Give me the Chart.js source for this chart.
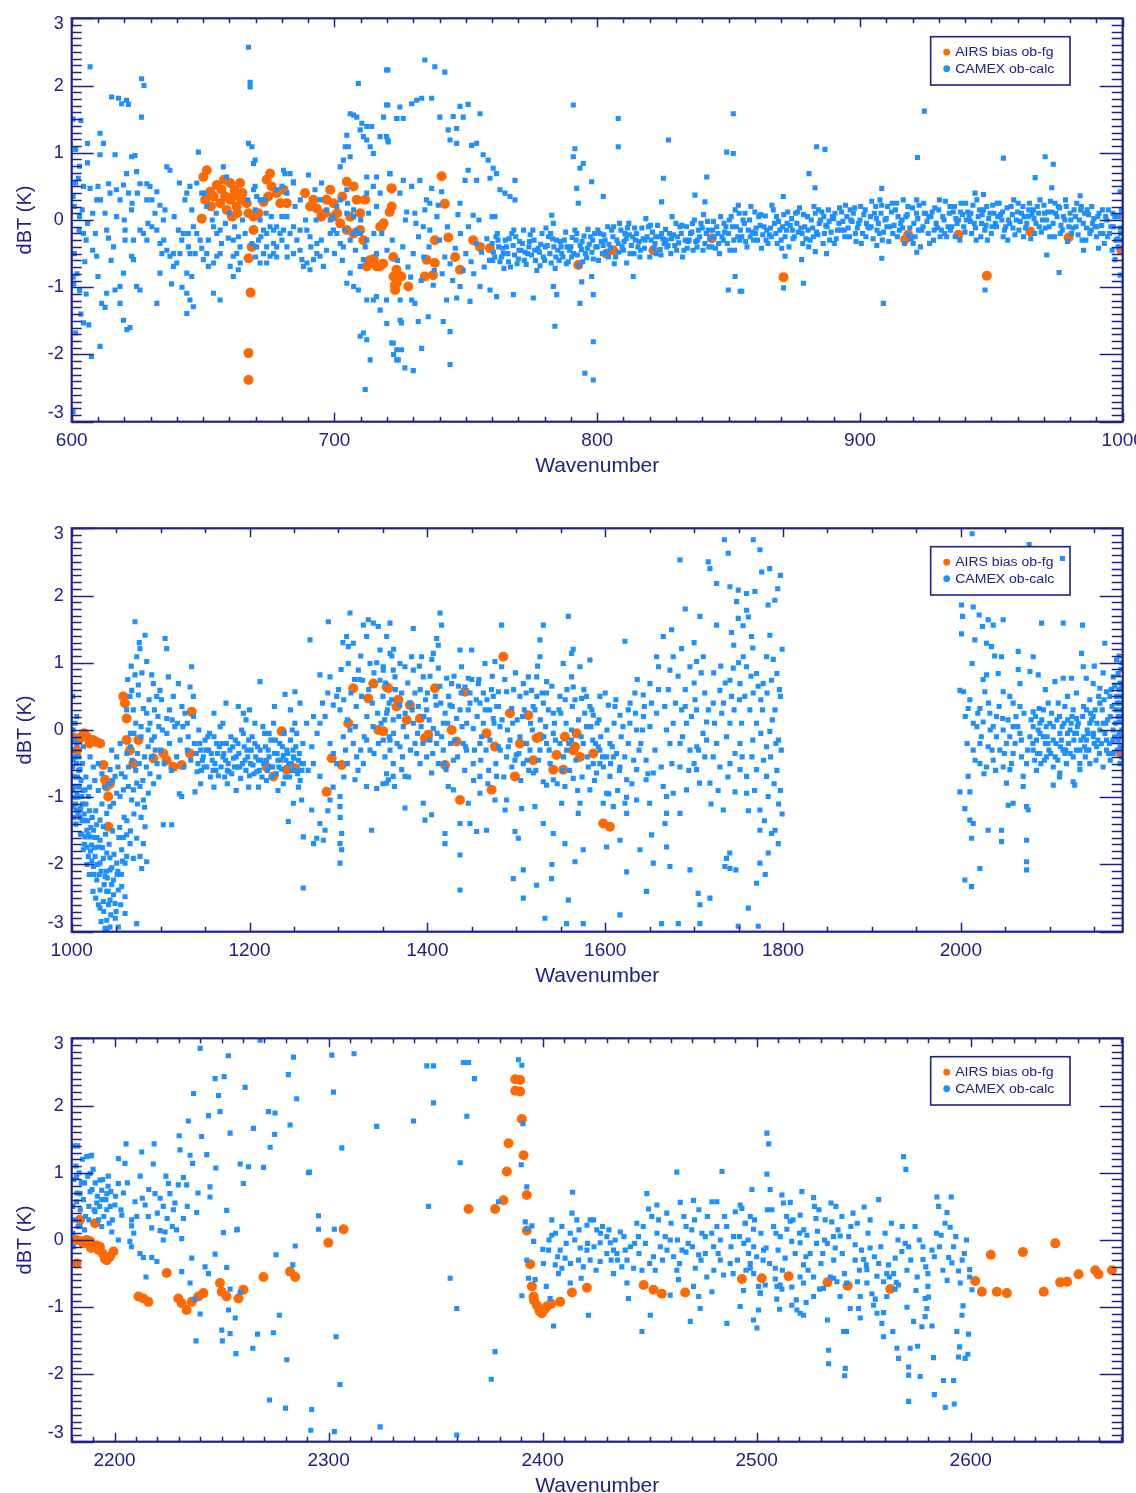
<!DOCTYPE html>
<html>
<head>
<meta charset="utf-8">
<title>dBT by wavenumber</title>
<script src="https://cdn.jsdelivr.net/npm/chart.js@4.4.0/dist/chart.umd.min.js"></script>
<style>
  html, body { margin: 0; padding: 0; background: #ffffff; width: 1136px; height: 1493px; overflow: hidden; }
  body { position: relative; }
  canvas { position: absolute; left: 0; }
</style>
</head>
<body>
<canvas id="band1" width="1136" height="510" style="top:0px;width:1136px;height:510px"></canvas>
<canvas id="band2" width="1136" height="510" style="top:510px;width:1136px;height:510px"></canvas>
<canvas id="band3" width="1136" height="510" style="top:1020px;width:1136px;height:510px"></canvas>
<script>
// ---- colours and fonts ----
const NAVY = '#20208c';
const CAMEX_BLUE = '#1e90ff';
const AIRS_ORANGE = '#ff6a00';
const FONT = '"Liberation Sans", Arial, Helvetica, sans-serif';

// ---- axes ----
const yTickValues = [-3, -2, -1, 0, 1, 2, 3];
const band1Range = [600, 1000];
const band1Ticks = [600, 700, 800, 900, 1000];
const band2Range = [1000, 2182];
const band2Ticks = [1000, 1200, 1400, 1600, 1800, 2000];
const band3Range = [2180, 2671];
const band3Ticks = [2200, 2300, 2400, 2500, 2600];

// ---- 600-1000 cm-1: AIRS bias (ob-fg) ----
const band1Airs = [
  [651.4,0.74],[650.1,0.64],[649.5,0.02],[650.8,0.3],[652.7,0.42],[654,0.35],[655.2,0.52],[656.5,0.25],[658.4,0.35],
  [660.3,0.55],[660.3,0.3],[661.5,0.35],[662.8,0.2],[664.1,0.55],[664.7,0.3],[666.6,0.25],[667.3,0.1],[669.2,-0.15],
  [669.2,0.05],[671.1,0.1],[673,0.27],[674.2,0.6],[675.5,0.69],[676.1,0.5],[678,0.4],[680.6,0.45],[681.9,0.25],
  [679.4,0.25],[674.8,0.35],[653,0.2],[657,0.45],[659,0.15],[662,0.45],[665,0.4],[663,0.1],[658,0.6],[661,0.05],
  [688.8,0.4],[690.7,0.2],[693.3,0.17],[696.4,0.1],[698.4,0.45],[699.6,0.25],[699.6,0.05],[702.2,-0.05],[692,0.3],
  [695,0.05],[697,0.3],[701,0.1],[703,0.35],[706,0.05],[704.7,0.57],[707.3,0.5],[704.7,-0.15],[707.3,-0.2],
  [709.8,-0.15],[708.5,0.3],[711.7,0.3],[709.8,0.1],[711,-0.3],[712.3,-0.69],[714.8,-0.64],[716.1,-0.69],
  [713.5,-0.6],[715,-0.58],[718.5,-0.65],[717.4,-0.1],[721.8,0.47],[721.8,0.2],[722.5,-0.84],[723.7,-0.94],
  [723.1,-1.04],[718.7,-0.05],[668.5,-0.4],[667.3,-0.57],[668.1,-1.08],[667.3,-1.98],[667.3,-2.38],
  [740.8,0.65],[721.7,0.47],[721,0.12],[717.9,-0.1],[742,0.24],[738.2,-0.3],[743.3,-0.26],[735.1,-0.59],
  [738.2,-0.64],[745.9,-0.55],[747.8,-0.74],[734.4,-0.84],[737.5,-0.82],[722.4,-0.55],[723.6,-0.74],[725.5,-0.84],
  [728.1,-0.99],[723,-0.97],[717.3,-0.69],[752.8,-0.3],[755.4,-0.4],[759.2,-0.42],[792.8,-0.67],[803.6,-0.5],
  [806.1,-0.45],[843.6,-0.27],[821.4,-0.45],[870.9,-0.85],[917.2,-0.29],[918.4,-0.22],[937.5,-0.22],[948.3,-0.83],
  [964.8,-0.17],[979.4,-0.26],[999.5,-0.45]
];

// ---- 600-1000 cm-1: CAMEX (ob-calc) ----
const band1Camex = [
  [600.5,1.5],[603.5,1.48],[601.5,1.05],[606,1.14],[603,0.8],[604.5,0.5],[607,0.47],[601.5,0.55],[601,0.2],[603,0.05],
  [604.5,-0.2],[601,-0.5],[602,-0.8],[600.5,-0.85],[603,-1.05],[605.5,-1.1],[603.5,-1.4],[604.5,-1.53],[606.5,-1.56],
  [601.5,-1.68],[607.5,-2.03],[607,2.28],[600.5,-2.85],[605.5,-0.3],[608,0.1],[609.5,0.3],[610.8,-1.88],[610.8,1.29],
  [600.5,0.35],[602.5,0.62],[605,-0.62],[602.8,-0.15],[600.8,-0.95],[606,0.85],[608,-0.45],
  [612.1,1.14],[610.8,0.97],[610,0.5],[611,0.3],[614,0.54],[614.6,0.4],[612.7,0.1],[613.3,-0.15],[614,-0.27],
  [615.9,-0.4],[609.5,-0.54],[610,-0.84],[613.3,-1.09],[611.4,-1.24],[612.7,-1.3],[616.5,-1.04],[618.4,-0.99],
  [615.2,1.83],[617.8,1.81],[619,1.73],[620.9,1.78],[621.6,1.72],[616.5,0.97],[620.9,0.69],[622.8,0.94],[624.1,0.96],
  [624.7,0.72],[626,0.54],[619.7,0.52],[621.6,0.4],[618.4,0.3],[617.1,0.05],[620.3,-0.15],[622.8,0.15],[626,-0.15],
  [623.5,-0.3],[620.3,-0.3],[622.8,-0.54],[623.5,-0.59],[619.7,-0.79],[618.4,-1.24],[619.7,-1.49],[621,-1.63],
  [622.2,-1.6],[624.7,-0.99],[626,-1.04],[626.6,2.1],[627.5,2.0],[626.6,1.53],[628.6,0.54],[628.6,0.3],[629.8,0.5],
  [630.5,0.3],[631.7,0.1],[632.4,0.42],[633.6,0.22],[634.9,0.0],[635.5,0.15],[636.2,0.79],[637.4,0.74],[627.3,-0.2],
  [628.6,-0.3],[630.5,-0.1],[632.4,-0.15],[633.6,-0.35],[634.3,-0.5],[636.2,-0.45],[637.4,-0.54],[638.7,-0.5],
  [638.7,-0.69],[640,-0.64],[641.2,-0.5],[641.9,-0.3],[640.6,-0.15],[642.5,-0.2],[643.1,0.3],[643.8,0.4],[645.7,0.15],
  [646.3,-0.1],[647.6,-0.2],[648.9,-0.3],[644.4,-0.4],[645,-0.5],[643.8,-0.79],[645.7,-0.84],[643.8,-1.09],
  [645,-1.19],[646.3,-1.29],[643.8,-1.39],[632.4,-1.24],[633.6,-0.79],[648.2,1.01],[647.6,0.55],[650.5,0.4],
  [617,0.45],[623,0.25],[629,-0.05],[635,-0.3],[639,0.05],[641,0.55],[645,0.5],[604,0.15],[606,-0.05],[609,-0.2],
  [615,-0.6],[620,0.0],[625,0.4],[638,-0.95],[642,-1.0],
  [649.5,0.4],[651.4,0.2],[654,-0.1],[655.2,-0.2],[656.5,-0.15],[657.7,0.79],[659,0.64],[659.6,-0.27],[661.5,-0.3],
  [661.5,-0.54],[662.8,-0.5],[664.1,-0.4],[660.3,-0.69],[661.5,-0.84],[663.4,-0.74],[664.1,-0.64],[650.1,-0.59],
  [652,-0.69],[654,-0.64],[655.2,-0.54],[656.5,-0.5],[651.4,-0.5],[647,-0.5],[649.5,-0.42],[644.4,-0.2],
  [656.5,-1.19],[654,-1.09],[667.3,2.57],[667.9,2.05],[667.9,1.98],[667.3,1.14],[668.6,1.09],[669.2,0.84],
  [669.8,0.89],[669.8,0.5],[669.2,0.45],[670.4,0.35],[671.7,0.3],[673.6,0.3],[669.8,0.15],[671.7,0.0],[673,-0.15],
  [674.2,-0.2],[675.5,-0.1],[676.8,-0.15],[678,-0.1],[679.3,-0.2],[680.6,-0.15],[681.9,0.05],[676.8,-0.35],
  [674.2,-0.4],[673,-0.5],[670.4,-0.4],[671.1,-0.3],[668.6,-0.35],[671.7,-0.64],[674.2,-0.64],[675.5,-0.54],
  [676.8,-0.5],[678,-0.4],[680,-0.3],[681.9,-0.4],[683.1,-0.2],[684.4,-0.5],[684.4,-0.1],[685.7,-0.3],[686.9,-0.45],
  [687.6,-0.59],[688.2,-0.69],[689.5,-0.64],[690.7,-0.74],[692,-0.59],[693.3,-0.5],[694.5,-0.54],[695.8,-0.69],
  [693.3,-0.35],[690.7,-0.25],[689.5,-0.15],[686.9,-0.15],[683.1,0.69],[681.2,0.69],[684.4,0.57],[681.9,0.4],
  [680,0.5],[678,0.45],[680.6,0.74],[684.4,0.55],[690.1,0.67],[692.6,0.45],[694.5,0.3],[695.1,0.55],[697.1,0.15],
  [698.4,0.0],[699.6,0.05],[700.9,0.2],[702.2,0.3],[699.6,-0.15],[698.4,-0.2],[700.9,-0.2],[702.2,-0.35],
  [703.4,-0.4],[704.1,-0.15],[706,-0.3],[707.3,-0.2],[708.5,-0.15],[709.8,-0.2],[712.3,-0.3],[702.2,0.79],
  [704.1,1.09],[705.3,1.09],[706,0.94],[703.4,0.89],[704.7,1.26],[706,1.58],[707.3,1.56],[708.5,1.53],[709.1,2.03],
  [709.8,1.34],[711,1.24],[712.3,1.19],[713.6,1.09],[714.8,0.99],[710.4,1.44],[712.3,1.39],[714.2,1.39],[720.3,2.23],
  [720.3,1.71],[717.4,1.24],[720.3,1.19],[718.7,1.53],[723.8,1.51],[721.1,0.69],[716,0.64],[714.8,0.5],[717.4,0.4],
  [712.3,0.4],[716,0.2],[707.3,0.15],[704.7,0.1],[704.7,0.45],[707.3,0.05],[712.3,0.64],[704.7,-0.94],[707.3,-0.99],
  [709.1,-1.04],[706,-0.79],[709.8,-0.69],[711,-0.59],[711.7,-0.4],[716,-0.5],[712.3,-1.19],[714.8,-1.19],
  [716,-1.14],[717.4,-1.34],[711,-1.68],[709.8,-1.73],[712.3,-1.78],[713.6,-2.08],[711.7,-2.52],[721.8,-1.83],
  [723.7,-2.08],[723.7,-1.93],[719.9,-1.54],[725,-1.49],[725,-1.19],[722.5,-2.0],
  [652,-0.3],[653.5,0.0],[655,0.1],[657,-0.35],[658.5,-0.05],[660,0.1],[662,-0.1],[663.5,-0.25],[665,0.0],[666,-0.2],
  [667,0.3],[670,-0.55],[672,-0.25],[674,0.1],[676,0.05],[678,-0.55],[680,0.05],[682,-0.55],[685,0.2],[687,0.3],
  [689,0.0],[691,-0.4],[693,0.0],[695,-0.3],[697,-0.45],[700,-0.5],[703,-0.6],[705,0.25],[708,-0.45],[710,0.0],
  [713,0.1],[715,-0.2],
  [719.8,2.23],[734.4,2.38],[738.2,2.28],[742,2.2],[719.8,1.71],[724.9,1.68],[729.4,1.73],[731.3,1.78],[733.2,1.81],
  [737,1.81],[723.6,1.51],[726.2,1.51],[740.1,1.53],[745.2,1.54],[749,1.53],[747.8,1.69],[750.9,1.72],[755.4,1.58],
  [743.3,1.34],[746.5,1.36],[744,1.19],[746.5,1.14],[752.2,1.11],[754.1,1.14],[756.6,0.97],[758.5,0.89],[760.4,0.77],
  [761.7,0.69],[750.9,0.74],[749.7,0.59],[754.1,0.59],[759.2,0.62],[768.7,0.59],[763,0.45],[764.9,0.4],[766.8,0.35],
  [768.7,0.3],[719.8,1.24],[720.5,1.16],[721.1,0.69],[726.2,0.59],[729.4,0.5],[732.5,0.59],[724.9,0.4],[737,0.47],
  [740.8,0.42],[734.4,0.15],[736.3,0.25],[739.5,0.22],[747.8,0.25],[727.5,0.12],[730.6,0.1],[752.8,0.07],[761.1,0.05],
  [733.8,-0.1],[736.3,-0.15],[782.7,0.07],[783.3,-0.05],[790.9,1.71],[791.5,1.06],[790.9,0.94],[793.4,0.77],
  [794.7,0.84],[797.9,0.57],[792.2,0.47],[792.8,0.25],[802.3,0.35],[808,1.51],[808,1.09],[783.3,-0.99],[784.6,-1.11],
  [775.7,-1.16],[768.1,-1.11],[761.7,-1.14],[783.9,-1.58],[793.4,-1.24],[798.5,-1.11],[798.5,-1.81],[795.3,-2.28],
  [798.5,-2.38],[794.1,-0.92],[797.9,-0.84],[813.7,-0.84],[811.2,-0.64],[825.2,0.62],[824.5,0.27],[827.1,1.19],
  [837.2,0.37],[841.7,0.64],[841,0.27],[849.3,1.01],[851.8,0.99],[851.8,1.58],[853.7,0.22],[849.9,-1.04],
  [854.4,-1.06],[852.5,-0.84],
  [729.4,-1.19],[725.5,-1.53],[731.9,-1.51],[735.7,-1.44],[741.4,-1.51],[744,-1.66],[722.4,-1.83],[725.5,-1.93],
  [724.3,-2.08],[726.8,-2.2],[730,-2.24],[733.2,-1.91],[744,-2.15],[719.8,-1.19],[730.6,-1.24],[737.6,-0.97],
  [742.7,-1.19],[746.5,-1.16],[751.6,-1.21],[747.8,-0.99],[755.4,-0.99],[759.2,-1.04],
  [718,-0.2],[720,-0.45],[722,-0.3],[724,-0.6],[726,-0.4],[728,-0.7],[730,-0.5],[732,-0.25],[734,-0.55],[736,-0.4],
  [738,-0.75],[740,-0.3],[742,-0.55],[744,-0.65],[746,-0.42],[748,-0.2],[750,-0.5],[752,-0.62],[754,-0.35],
  [756,-0.48],[758,-0.28],[729,-0.85],[733,-0.9],[741,-0.8],[745,-0.9],[749,-0.75],[753,-0.8],[757,-0.7],[759,-0.6],
  [727,0.0],[731,-0.05],[735,0.3],[739,0.05],[743,-0.1],[747,0.08],[751,-0.1],[755,0.0],[760,0.05],
  [760,-0.35],[761,-0.55],[762,-0.2],[763,-0.62],[764,-0.42],[765,-0.3],[766,-0.5],[767,-0.7],[768,-0.38],[769,-0.25],
  [770,-0.58],[771,-0.45],[772,-0.15],[773,-0.66],[774,-0.4],[775,-0.52],[776,-0.3],[777,-0.75],[778,-0.48],[779,-0.2],
  [780,-0.6],[781,-0.38],[782,-0.5],[783,-0.28],[784,-0.72],[785,-0.45],[786,-0.32],[787,-0.55],[788,-0.18],[789,-0.62],
  [790,-0.4],[791,-0.5],[792,-0.3],[793,-0.68],[794,-0.44],[795,-0.24],[796,-0.56],[797,-0.36],[798,-0.48],[799,-0.2],
  [760.5,-0.48],[762.5,-0.4],[764.5,-0.72],[766.5,-0.28],[768.5,-0.52],[770.5,-0.32],[772.5,-0.48],[774.5,-0.22],
  [776.5,-0.6],[778.5,-0.36],[780.5,-0.12],[782.5,-0.64],[784.5,-0.3],[786.5,-0.5],[788.5,-0.4],[790.5,-0.26],
  [792.5,-0.52],[794.5,-0.62],[796.5,-0.14],[798.5,-0.58],
  [761.5,-0.25],[763.5,-0.55],[765.5,-0.4],[767.5,-0.2],[769.5,-0.65],[771.5,-0.35],[773.5,-0.5],[775.5,-0.15],
  [777.5,-0.42],[779.5,-0.55],[781.5,-0.25],[783.5,-0.4],[785.5,-0.6],[787.5,-0.3],[789.5,-0.45],[791.5,-0.15],
  [793.5,-0.38],[795.5,-0.5],[797.5,-0.25],[799.5,-0.4],
  [760.25,-0.6],[762.25,-0.3],[764.25,-0.5],[766.25,-0.62],[768.25,-0.15],[770.25,-0.45],[772.25,-0.6],
  [774.25,-0.32],[776.25,-0.45],[778.25,-0.68],[780.25,-0.4],[782.25,-0.2],[784.25,-0.55],[786.25,-0.4],
  [788.25,-0.65],[790.25,-0.55],[792.25,-0.2],[794.25,-0.32],[796.25,-0.42],[798.25,-0.3],
  [800,-0.4],[801,-0.2],[802,-0.5],[803,-0.3],[804,-0.1],[805,-0.42],[806,-0.25],[807,-0.55],[808,-0.35],[809,-0.15],
  [810,-0.45],[811,-0.28],[812,-0.05],[813,-0.38],[814,-0.5],[815,-0.2],[816,-0.32],[817,-0.12],[818,-0.42],[819,-0.25],
  [820,-0.55],[821,-0.18],[822,-0.35],[823,-0.08],[824,-0.44],[825,-0.28],[826,-0.14],[827,-0.38],[828,-0.5],[829,-0.22],
  [830,-0.05],[831,-0.34],[832,-0.2],[833,-0.45],[834,-0.1],[835,-0.3],[836,-0.18],[837,0.0],[838,-0.4],[839,-0.25],
  [840,-0.12],[841,-0.35],[842,-0.02],[843,-0.28],[844,-0.15],[845,-0.42],[846,-0.2],[847,0.05],[848,-0.3],[849,-0.1],
  [800.5,-0.6],[802.5,-0.22],[804.5,-0.36],[806.5,-0.65],[808.5,-0.05],[810.5,-0.2],[812.5,-0.5],[814.5,-0.3],
  [816.5,-0.45],[818.5,0.02],[820.5,-0.3],[822.5,-0.5],[824.5,-0.2],[826.5,-0.4],[828.5,0.05],[830.5,-0.25],
  [832.5,-0.55],[834.5,-0.32],[836.5,-0.45],[838.5,-0.15],[840.5,0.08],[842.5,-0.4],[844.5,-0.25],[846.5,-0.5],
  [848.5,-0.18],
  [801.5,-0.32],[803.5,-0.48],[805.5,-0.15],[807.5,-0.3],[809.5,-0.4],[811.5,-0.12],[813.5,-0.25],[815.5,-0.4],
  [817.5,-0.28],[819.5,-0.1],[821.5,-0.42],[823.5,-0.25],[825.5,-0.35],[827.5,-0.2],[829.5,-0.38],[831.5,-0.1],
  [833.5,-0.3],[835.5,-0.2],[837.5,-0.32],[839.5,-0.05],[841.5,-0.2],[843.5,-0.4],[845.5,-0.1],[847.5,-0.25],
  [849.5,-0.35],
  [800.25,-0.15],[802.25,-0.38],[804.25,-0.55],[806.25,-0.1],[808.25,-0.48],[810.25,-0.32],[812.25,-0.22],
  [814.25,-0.12],[816.25,-0.55],[818.25,-0.3],[820.25,-0.08],[822.25,-0.25],[824.25,-0.52],[826.25,-0.3],
  [828.25,-0.28],[830.25,-0.45],[832.25,-0.08],[834.25,-0.42],[836.25,-0.05],[838.25,-0.3],[840.25,-0.45],
  [842.25,-0.15],[844.25,-0.02],[846.25,-0.35],[848.25,-0.05],
  [850,-0.2],[851,0.05],[852,-0.3],[853,-0.1],[854,0.1],[855,-0.25],[856,-0.05],[857,-0.4],[858,0.0],[859,-0.18],
  [860,0.12],[861,-0.3],[862,-0.08],[863,-0.22],[864,0.06],[865,-0.35],[866,-0.12],[867,0.15],[868,-0.2],[869,-0.02],
  [870,-0.3],[871,0.08],[872,-0.15],[873,-0.4],[874,0.02],[875,-0.25],[876,-0.05],[877,0.18],[878,-0.2],[879,-0.1],
  [880,0.05],[881,-0.3],[882,-0.12],[883,0.1],[884,-0.22],[885,0.0],[886,-0.35],[887,-0.08],[888,0.15],[889,-0.18],
  [890,0.02],[891,-0.28],[892,-0.05],[893,0.12],[894,-0.15],[895,0.05],[896,-0.25],[897,-0.02],[898,0.18],[899,-0.12],
  [850.5,-0.45],[852.5,0.15],[854.5,-0.15],[856.5,-0.32],[858.5,0.2],[860.5,-0.12],[862.5,-0.42],[864.5,-0.15],
  [866.5,0.22],[868.5,-0.35],[870.5,-0.1],[872.5,0.12],[874.5,-0.28],[876.5,-0.18],[878.5,0.08],[880.5,-0.4],
  [882.5,0.2],[884.5,-0.05],[886.5,-0.2],[888.5,-0.3],[890.5,0.1],[892.5,-0.15],[894.5,0.22],[896.5,0.0],[898.5,-0.32],
  [851.5,-0.1],[853.5,-0.25],[855.5,0.0],[857.5,-0.15],[859.5,-0.3],[861.5,0.05],[863.5,-0.1],[865.5,-0.22],
  [867.5,-0.05],[869.5,-0.15],[871.5,-0.25],[873.5,-0.08],[875.5,0.1],[877.5,-0.12],[879.5,-0.28],[881.5,0.0],
  [883.5,-0.18],[885.5,0.12],[887.5,-0.1],[889.5,0.05],[891.5,-0.15],[893.5,-0.02],[895.5,-0.12],[897.5,0.1],
  [899.5,-0.05],
  [850.25,0.0],[852.25,-0.45],[854.25,-0.3],[856.25,0.1],[858.25,-0.25],[860.25,-0.2],[862.25,0.08],[864.25,-0.3],
  [866.25,-0.25],[868.25,0.05],[870.25,-0.42],[872.25,-0.05],[874.25,-0.15],[876.25,0.12],[878.25,-0.35],
  [880.25,-0.15],[882.25,-0.25],[884.25,0.15],[886.25,0.05],[888.25,-0.02],[890.25,-0.35],[892.25,0.18],
  [894.25,-0.25],[896.25,0.15],[898.25,-0.2],
  [900,0.0],[901,-0.2],[902,0.15],[903,-0.1],[904,0.05],[905,-0.28],[906,0.2],[907,-0.05],[908,0.1],[909,-0.18],
  [910,0.02],[911,-0.32],[912,0.12],[913,-0.08],[914,0.25],[915,-0.15],[916,0.0],[917,-0.35],[918,0.08],[919,-0.12],
  [920,0.18],[921,-0.25],[922,0.02],[923,-0.4],[924,-0.1],[925,0.1],[926,-0.2],[927,0.05],[928,-0.3],[929,-0.05],
  [930,0.15],[931,-0.15],[932,0.0],[933,-0.25],[934,0.1],[935,-0.1],[936,0.2],[937,-0.05],[938,-0.3],[939,0.08],
  [940,-0.18],[941,0.12],[942,-0.02],[943,0.22],[944,-0.12],[945,0.05],[946,-0.25],[947,0.15],[948,-0.08],[949,0.02],
  [950,-0.2],[951,0.1],[952,-0.1],[953,0.25],[954,0.0],[955,-0.15],[956,0.18],[957,-0.05],[958,0.08],[959,-0.22],
  [960,0.12],[961,-0.02],[962,0.2],[963,-0.12],[964,0.05],[965,-0.28],[966,0.15],[967,-0.05],[968,0.1],[969,-0.18],
  [970,0.22],[971,0.0],[972,-0.1],[973,0.12],[974,-0.25],[975,0.05],[976,0.18],[977,-0.15],[978,0.0],[979,-0.32],
  [980,0.1],[981,-0.12],[982,0.05],[983,-0.22],[984,0.15],[985,-0.05],[986,-0.3],[987,0.08],[988,-0.15],[989,0.02],
  [990,-0.25],[991,0.1],[992,-0.08],[993,-0.35],[994,0.0],[995,-0.2],[996,-0.45],[997,0.05],[998,-0.28],[999,-0.12],
  [900.5,-0.35],[902.5,-0.05],[904.5,0.28],[906.5,-0.15],[908.5,-0.3],[910.5,0.2],[912.5,-0.2],[914.5,0.05],
  [916.5,0.3],[918.5,-0.22],[920.5,-0.05],[922.5,0.22],[924.5,0.1],[926.5,-0.35],[928.5,0.18],[930.5,-0.25],
  [932.5,0.28],[934.5,-0.15],[936.5,0.02],[938.5,0.25],[940.5,0.0],[942.5,-0.2],[944.5,0.3],[946.5,0.08],
  [948.5,-0.3],[950.5,0.22],[952.5,0.05],[954.5,-0.25],[956.5,0.0],[958.5,0.3],[960.5,-0.15],[962.5,0.05],
  [964.5,0.25],[966.5,-0.2],[968.5,0.3],[970.5,-0.12],[972.5,0.28],[974.5,0.1],[976.5,-0.08],[978.5,0.2],
  [980.5,-0.2],[982.5,0.25],[984.5,-0.3],[986.5,0.15],[988.5,-0.05],[990.5,0.05],[992.5,-0.2],[994.5,0.15],
  [996.5,-0.1],[998.5,0.05],
  [901.5,0.08],[903.5,-0.12],[905.5,0.1],[907.5,-0.2],[909.5,0.0],[911.5,-0.1],[913.5,0.15],[915.5,-0.05],
  [917.5,0.05],[919.5,-0.28],[921.5,0.1],[923.5,-0.15],[925.5,-0.02],[927.5,0.12],[929.5,-0.12],[931.5,0.05],
  [933.5,-0.1],[935.5,0.12],[937.5,0.0],[939.5,-0.1],[941.5,0.05],[943.5,-0.05],[945.5,0.15],[947.5,-0.15],
  [949.5,0.1],[951.5,-0.05],[953.5,0.08],[955.5,-0.1],[957.5,0.2],[959.5,0.0],[961.5,0.1],[963.5,-0.05],[965.5,0.08],
  [967.5,0.2],[969.5,0.0],[971.5,0.12],[973.5,-0.05],[975.5,0.2],[977.5,0.05],[979.5,-0.1],[981.5,0.15],[983.5,0.0],
  [985.5,0.1],[987.5,-0.2],[989.5,-0.1],[991.5,-0.2],[993.5,0.05],[995.5,-0.1],[997.5,-0.3],[999.2,-0.2],
  [900.25,0.2],[902.25,-0.25],[904.25,-0.1],[906.25,0.02],[908.25,0.22],[910.25,-0.1],[912.25,0.25],[914.25,-0.25],
  [916.25,-0.12],[918.25,0.2],[920.25,-0.35],[922.25,-0.15],[924.25,0.25],[926.25,0.05],[928.25,-0.15],[930.25,0.3],
  [932.25,-0.2],[934.25,0.2],[936.25,-0.25],[938.25,0.12],[940.25,0.25],[942.25,0.1],[944.25,-0.3],[946.25,-0.05],
  [948.25,0.2],[950.25,-0.1],[952.25,0.25],[954.25,0.12],[956.25,-0.3],[958.25,-0.12],[960.25,0.25],[962.25,-0.25],
  [964.25,0.15],[966.25,0.02],[968.25,-0.1],[970.25,0.1],[972.25,-0.25],[974.25,0.25],[976.25,-0.2],[978.25,0.3],
  [980.25,0.0],[982.25,-0.1],[984.25,0.2],[986.25,-0.12],[988.25,0.2],[990.25,-0.1],[992.25,0.15],[994.25,-0.25],
  [996.25,0.1],[998.25,-0.4],
  [883.5,1.09],[886.7,1.05],[880.6,0.69],[882.9,0.48],[870.8,0.35],[924.5,1.62],[921.9,0.93],[908.3,0.47],
  [907.6,0.3],[908.9,-1.24],[908.3,-0.57],[921.6,0.3],[943.8,0.4],[947,0.38],[954.6,0.92],[970.5,0.94],[973.6,0.83],
  [966.7,0.63],[973,0.48],[983.8,0.36],[871.5,-0.54],[870.9,-1.01],[878.5,-0.94],[877.8,-0.59],[883,-0.47],
  [887.3,-0.5],[906.4,-0.38],[921.6,-0.48],[947.6,-1.04],[971.1,-0.52],[975.8,-0.78],[985.1,-0.45],[990.8,-0.42],
  [999,0.42],[999,-0.82],[997.1,-0.59],[855,-1.06],[999.5,0.15],[999.5,-0.3]
];

// ---- 1000-2182 cm-1: AIRS bias (ob-fg) ----
const band2Airs = [
  [1003,-0.12],[1006,-0.3],[1008,-0.15],[1011,-0.1],[1014,-0.05],[1017,-0.1],[1020,-0.2],[1024,-0.15],[1028,-0.18],
  [1032,-0.2],[1035.6,-0.52],[1037.5,-0.74],[1039.4,-0.84],[1041,-0.99],[1043,-0.8],[1041.2,-1.44],[1058,0.5],
  [1059.9,0.4],[1061.8,0.17],[1061.8,-0.15],[1065.6,-0.3],[1069.3,-0.5],[1075,-0.15],[1091.8,-0.42],[1103,-0.35],
  [1106.8,-0.45],[1114.3,-0.55],[1123.7,-0.52],[1133,-0.35],[1134.9,0.27],[1219.3,-0.55],[1226.8,-0.69],
  [1236.1,-0.02],[1241.8,-0.59],[1251,-0.57],[1286.7,-0.92],[1292.4,-0.42],[1303.7,-0.52],[1311.1,0.1],
  [1316.7,0.62],[1333.6,0.47],[1339.2,0.69],[1344.8,0.0],[1350.4,-0.02],[1354.2,0.64],[1365.4,0.35],[1356.1,0.62],
  [1367.3,0.45],[1380.4,0.37],[1376.7,0.15],[1391.7,0.17],[1397.3,-0.12],[1401,-0.07],[1419.8,-0.52],[1408.5,0.62],
  [1427.3,0.0],[1432.9,-0.17],[1436.7,-1.04],[1442.3,0.57],[1466.6,-0.05],[1476,-0.25],[1472.3,-0.89],[1485.4,1.09],
  [1492.9,0.25],[1498.5,-0.69],[1504.1,-0.2],[1513.5,0.22],[1519.1,-0.45],[1522.9,-0.12],[1526.6,-0.1],
  [1541.6,-0.59],[1545.3,-0.37],[1552.8,-0.59],[1554.7,-0.1],[1566,-0.25],[1567.8,-0.05],[1571.6,-0.4],
  [1586.6,-0.35],[1597.8,-1.39],[1605.3,-1.44],[1564.1,-0.3],[2180,-0.35]
];

// ---- 1000-2182 cm-1: CAMEX (ob-calc) ----
const band2Camex = [
  [1001.1,0.5],[1003.7,0.1],[1005.6,-0.2],[1005.6,-0.5],[1001.9,-0.69],[1009.4,-0.59],[1007.5,-0.84],[1011.2,-0.99],
  [1015,-0.89],[1018.7,-0.99],[1005.6,-1.19],[1010,-1.17],[1013.1,-1.34],[1016.9,-1.49],[1020.6,-1.59],[1015,-1.59],
  [1024.4,-1.49],[1028.1,-1.41],[1031.9,-1.64],[1030,-1.74],[1026.2,-1.88],[1024.4,-2.03],[1031.9,-1.98],
  [1035.6,-1.91],[1039.4,-1.83],[1043.1,-2.08],[1037.5,-2.18],[1028.1,-2.23],[1031.9,-2.38],[1039.4,-2.4],
  [1043.1,-2.53],[1048.7,-2.58],[1052.5,-2.38],[1056.2,-2.33],[1060,-2.48],[1046.9,-2.23],[1050.6,-1.98],
  [1056.2,-1.78],[1060,-1.98],[1061.8,-1.88],[1065.6,-1.69],[1069.3,-1.91],[1076.8,-1.88],[1078.7,-2.06],
  [1084.3,-1.96],[1080.6,-1.69],[1082.5,-1.44],[1073.1,-1.61],[1061.8,-1.56],[1060,-2.73],[1039.4,-2.83],
  [1043.1,-2.93],[1052.5,-2.93],[1073.1,-2.88],[1039.4,-2.97],[1031.9,-2.65],[1035.6,-2.55],[1041,-2.4],[1045,-2.3],
  [1016.9,-1.74],[1013.1,-1.78],[1018.7,-1.88],[1022.5,-1.71],[1026,-1.6],[1031.9,-1.34],[1035.6,-1.44],
  [1039.4,-1.24],[1043.1,-1.14],[1046.9,-1.09],[1050.6,-0.94],[1054.4,-0.99],[1058.1,-0.89],[1063.7,-0.84],
  [1067.5,-1.04],[1069.3,-0.89],[1073.1,-0.79],[1076.8,-0.84],[1080.6,-1.04],[1086.2,-0.94],[1048.7,-0.69],
  [1043.1,-0.59],[1050.6,-0.4],[1054.4,-0.2],[1045,-0.3],[1005.6,0.2],[1013.1,-0.25],[1020.6,-0.4],[1024.4,-0.55],
  [1030,-0.5],[1000.5,-0.3],[1001,-0.55],[1002,-0.85],[1003,-1.0],[1004,-0.4],[1002.5,-1.3],[1004.5,-1.1],
  [1006.5,-0.7],[1008,-0.4],[1007,-1.0],[1009,-1.3],[1010.5,-0.75],[1012,-1.1],[1011,-1.55],[1014,-1.25],[1016,-1.1],
  [1018,-1.35],[1020,-1.2],[1021,-1.8],[1023,-1.3],[1025,-2.15],[1027,-1.2],[1029,-2.0],[1033,-2.1],[1034,-1.1],
  [1036,-2.7],[1038,-1.55],[1040,-2.2],[1042,-1.7],[1044,-2.75],[1046,-1.5],[1047,-2.45],[1049,-2.8],[1051,-2.15],
  [1053,-1.6],[1055,-2.6],[1057,-1.95],[1059,-1.3],[1001.5,0.0],[1003,-0.15],[1008,-0.6],[1012,-0.5],[1016,-0.7],
  [1020,-0.85],[1026,-0.75],[1030,-0.9],[1034,-0.65],[1038,-0.85],[1042,-0.8],[1046,-0.75],[1052,-0.55],[1056,-0.65],
  [1060,-0.7],[1064,-0.55],[1068,-0.45],[1072,-0.6],[1076,-0.5],[1080,-0.75],[1084,-0.55],[1088,-0.65],[1092,-0.8],
  [1096,-0.5],[1098,-0.7],
  [1000.8,-0.9],[1001.5,-1.15],[1002.2,-0.45],[1003.5,-0.7],[1004.8,-1.4],[1006,-0.95],[1007.2,-1.25],[1008.5,-0.85],
  [1009.8,-1.55],[1011.5,-1.35],[1012.8,-0.9],[1014.2,-1.7],[1015.5,-1.35],[1017.2,-2.0],[1018.5,-1.55],[1019.8,-2.15],
  [1021.5,-1.45],[1022.8,-1.95],[1024,-2.4],[1025.5,-1.75],[1027,-2.5],[1028.5,-1.6],[1030,-2.6],[1031,-2.15],
  [1033,-2.85],[1034.5,-1.75],[1036.5,-2.3],[1037.5,-2.95],[1039,-2.1],[1041.5,-2.6],[1043,-1.9],[1045,-2.05],
  [1047.5,-1.85],[1050,-2.7],[1052,-2.1],[1054,-1.45],[1056,-2.15],[1058,-1.6],[1062,-1.35],[1066,-1.5],[1070,-1.25],
  [1074,-1.1],[1078,-1.3],[1082,-1.15],[1062,-0.35],[1066,-0.25],[1070,-0.05],[1074,-0.35],[1078,0.05],[1082,-0.4],
  [1086,0.0],[1090,-0.15],[1094,-0.3],[1098,0.05],[1063,0.75],[1067,0.95],[1079,0.85],[1087,0.45],[1093,0.3],
  [1101,0.45],[1107,-0.05],[1113,0.15],[1119,0.1],[1125,0.05],[1131,-0.1],[1137,0.2],
  [1071.2,1.61],[1073.1,1.09],[1076,1.3],[1082.5,1.41],[1076.8,1.21],[1071.2,0.82],[1075,0.67],[1067.5,0.59],
  [1065.6,0.5],[1069.3,0.3],[1061.8,0.3],[1075,0.52],[1080.6,0.32],[1084.3,0.25],[1090,0.82],[1084.3,1.02],
  [1091.8,0.69],[1095.6,0.5],[1099.3,0.59],[1105,1.36],[1106.8,1.21],[1108.7,0.79],[1106.8,0.17],[1114.3,0.5],
  [1120,0.69],[1134.9,0.94],[1133.1,0.64],[1136.8,0.5],[1127.4,0.25],[1103,-1.41],[1112.4,-1.41],[1123.7,-0.99],
  [1121,-0.95],[1138.7,-0.92],[1088,0.1],[1093,-0.1],[1097,0.2],[1102,0.0],[1110,0.3],[1116,0.05],[1124,0.35],
  [1130,0.1],[1066,-0.05],[1072,0.1],[1078,-0.1],[1086,-0.25],[1090,-0.4],[1100,-0.3],[1104,-0.5],[1110,-0.2],
  [1112,-0.6],[1118,-0.4],[1122,-0.15],[1126,-0.55],[1130,-0.3],[1134,-0.45],[1138,-0.2],
  [1140,-0.35],[1142,-0.5],[1144,-0.2],[1146,-0.6],[1148,-0.4],[1150,-0.15],[1152,-0.55],[1154,-0.3],[1156,-0.7],
  [1158,-0.45],[1160,-0.1],[1162,-0.6],[1164,-0.35],[1166,-0.25],[1168,-0.55],[1170,-0.4],[1172,-0.7],[1174,-0.2],
  [1176,-0.5],[1178,-0.3],[1180,-0.65],[1182,-0.42],[1184,-0.15],[1186,-0.55],[1188,-0.35],[1190,-0.72],[1192,-0.5],
  [1194,-0.25],[1196,-0.6],[1198,-0.4],[1200,-0.68],[1202,-0.3],[1204,-0.52],[1206,-0.2],[1208,-0.62],[1210,-0.45],
  [1212,-0.3],[1214,-0.7],[1216,-0.5],[1218,-0.25],[1220,-0.6],[1222,-0.4],[1224,-0.15],[1226,-0.55],[1228,-0.35],
  [1230,-0.65],[1232,-0.45],[1234,-0.2],[1236,-0.58],[1238,-0.38],[1240,-0.7],[1242,-0.3],[1244,-0.5],[1246,-0.15],
  [1248,-0.6],[1250,-0.42],[1252,-0.25],[1254,-0.65],[1256,-0.35],[1258,-0.5],[1260,-0.2],
  [1141,-0.62],[1145,-0.3],[1149,-0.55],[1153,-0.1],[1157,-0.35],[1161,-0.5],[1165,-0.68],[1169,-0.2],[1173,-0.45],
  [1177,-0.62],[1181,-0.25],[1185,-0.4],[1189,-0.55],[1193,-0.05],[1197,-0.3],[1201,-0.5],[1205,-0.65],[1209,-0.25],
  [1213,-0.45],[1217,-0.05],[1221,-0.3],[1225,-0.7],[1229,-0.15],[1233,-0.55],[1237,-0.25],[1241,-0.45],[1245,-0.7],
  [1249,-0.3],[1253,-0.05],[1257,-0.75],[1143,0.0],[1155,-0.05],[1167,0.05],[1179,-0.1],[1191,0.0],[1203,-0.1],
  [1215,0.05],[1227,0.1],[1239,-0.05],[1251,0.1],
  [1147,-0.45],[1151,-0.3],[1159,-0.6],[1163,-0.2],[1171,-0.35],[1175,-0.6],[1183,-0.55],[1187,-0.2],[1195,-0.45],
  [1199,-0.15],[1207,-0.4],[1211,-0.6],[1219,-0.45],[1223,-0.55],[1231,-0.35],[1235,-0.45],[1243,-0.35],[1247,-0.5],
  [1255,-0.45],[1259,-0.6],[1145,-0.8],[1175,-0.8],[1199,-0.85],[1219,-0.75],[1238,-0.8],[1255,-0.85],[1170,0.1],
  [1196,0.15],[1222,-0.05],[1248,0.0],
  [1173.5,0.4],[1187.4,0.35],[1193.1,0.25],[1211.8,0.72],[1239.9,0.53],[1251.1,0.57],[1268,1.34],[1256.7,0.4],
  [1243.6,-1.36],[1260.5,-2.35],[1260.5,-1.59],[1275.5,-1.61],[1283,-1.64],[1269.9,-1.19],[1249.3,-1.09],
  [1258.6,-1.04],[1160,0.25],[1200,0.3],[1228,0.35],[1246,0.3],[1206,0.1],[1160,-0.85],[1185,-0.9],[1210,-0.85],
  [1232,-0.9],
  [1288.6,1.61],[1313,1.74],[1309.2,1.39],[1311.1,1.24],[1305,1.3],[1316.7,1.29],[1328,1.56],[1333.6,1.64],
  [1339.2,1.59],[1344.8,1.54],[1331.7,1.39],[1346.7,1.19],[1354.2,1.39],[1311.1,0.99],[1322.4,0.89],[1325,1.1],
  [1335.5,0.99],[1350.4,0.94],[1358,1.14],[1318,0.75],[1327.2,0.74],[1340,0.85],[1346.7,0.74],[1363.6,0.79],
  [1290.5,0.79],[1279.2,0.82],[1298,0.5],[1301.7,0.3],[1294.2,0.37],[1285,0.2],[1279.2,0.1],[1272,0.2],[1264.2,0.1],
  [1290.5,-0.2],[1294.2,-0.35],[1305.5,-0.1],[1313,0.0],[1316.7,-0.2],[1320.5,-0.4],[1325,-0.3],[1331.7,-0.15],
  [1335.5,-0.3],[1340,-0.35],[1350.4,-0.15],[1345,-0.2],[1358,-0.3],[1362,-0.05],[1331.7,-0.84],[1343,-0.87],
  [1356.1,-0.74],[1350,-0.8],[1354,-0.65],[1318.6,-0.74],[1337.3,-1.49],[1301.7,-0.99],[1301.7,-1.14],[1302,-1.3],
  [1303.6,-1.54],[1301.7,-1.69],[1303.6,-1.78],[1301.7,-1.98],[1272,-1.69],[1279.2,-1.39],[1284.9,-1.49],
  [1288,-1.2],[1290.5,-1.04],[1294,-0.85],[1279.2,-0.69],[1271.7,-0.5],[1266,-0.6],[1260.5,-0.5],[1254,-0.6],
  [1249.3,-0.4],[1270,-0.25],[1276,-0.05],[1282,0.4],[1288,0.55],[1300,0.6],[1306,0.45],[1310,0.15],[1320,0.35],
  [1326,0.5],[1332,0.2],[1338,0.4],[1344,0.25],[1350,0.5],[1355,0.3],[1322,-0.6],[1328,-0.5],[1310,-0.5],[1306,-0.7],
  [1298,-0.5],
  [1358,1.59],[1384.2,1.51],[1414.2,1.74],[1416,1.56],[1436.7,1.19],[1449.8,1.19],[1483.5,1.56],[1530.4,1.56],
  [1558.5,1.69],[1622.2,1.32],[1526.6,1.34],[1410.4,1.36],[1412.3,1.26],[1406.7,1.14],[1393.5,1.09],[1382.3,1.09],
  [1369.2,0.99],[1360,1.1],[1350.4,0.89],[1361.6,0.89],[1374.8,0.94],[1384.2,0.89],[1395.4,0.79],[1412.3,0.92],
  [1421.7,0.77],[1427.3,0.69],[1438.5,0.94],[1446,0.77],[1442.3,0.64],[1457.3,0.69],[1464.8,0.99],[1476,1.02],
  [1483.5,0.94],[1489.1,0.57],[1479.8,0.57],[1474.1,0.5],[1467,0.45],[1459.1,0.4],[1447.9,0.4],[1436.7,0.3],
  [1425.4,0.37],[1410,0.37],[1399.2,0.3],[1389.8,0.35],[1380.4,0.4],[1369,0.37],[1359.8,0.45],[1354.2,0.25],
  [1361.6,0.15],[1373,0.05],[1384.2,0.1],[1393,0.05],[1406.7,0.02],[1417.9,0.1],[1432.9,0.17],[1444.2,0.1],
  [1451.6,0.02],[1462.9,0.1],[1474.1,0.17],[1481.6,0.05],[1494.8,0.32],[1504.1,0.5],[1507.9,0.69],[1513.5,0.79],
  [1522.9,0.79],[1526.6,1.09],[1524,0.95],[1534.1,0.72],[1517.2,0.59],[1523,0.5],[1530.4,0.4],[1536,0.3],
  [1541.6,0.25],[1549.1,0.5],[1552.8,0.99],[1562.2,1.14],[1564,1.2],[1571.6,0.94],[1582.8,1.04],[1557,0.6],
  [1562.2,0.79],[1564.1,0.64],[1573.5,0.47],[1579,0.5],[1582.8,0.35],[1586.6,0.22],[1594.1,0.5],[1603.5,0.37],
  [1611,0.35],[1616.6,0.22],[1625.9,0.3],[1627.8,0.1],[1633.4,0.55],[1642.8,0.52],
  [1352.3,-0.4],[1361.6,-0.5],[1371.1,-0.59],[1374.8,-0.69],[1361.6,-0.69],[1354.2,-0.79],[1363,-0.84],
  [1374.8,-1.16],[1395.4,-1.09],[1397.3,-1.34],[1404.8,-1.26],[1391.7,-0.5],[1399.2,-0.4],[1404.8,-0.64],
  [1412.3,-0.5],[1421,-0.59],[1429.2,-0.45],[1423.5,-0.84],[1429.2,-0.89],[1436.7,-1.39],[1447.9,-1.39],
  [1419.8,-1.54],[1419.8,-1.69],[1436.7,-1.86],[1436.7,-2.38],[1446,-1.09],[1455.4,-1.51],[1466.6,-1.49],
  [1459.1,-0.94],[1459.1,-0.69],[1468,-0.8],[1477.9,-0.69],[1476,-1.04],[1489.1,-1.04],[1487.3,-1.19],
  [1498.5,-1.51],[1502.3,-1.61],[1506,-1.17],[1498.5,-0.45],[1507.9,-0.5],[1500,-0.37],[1515.4,-0.3],[1519.1,-0.64],
  [1530.4,-0.77],[1534.1,-0.82],[1541.6,-0.74],[1551,-1.09],[1554.7,-0.84],[1564.1,-0.72],[1569.7,-1.24],
  [1571.6,-1.09],[1582.8,-0.89],[1590.3,-0.64],[1586.6,-0.5],[1594,-0.5],[1601.6,-0.4],[1605.3,-0.2],[1612.8,-0.35],
  [1440.4,-0.2],[1444,-0.3],[1451.6,-0.5],[1459.1,-0.2],[1470.4,-0.15],[1479.8,-0.25],[1489.1,-0.4],[1493,-0.15],
  [1504.1,-0.1],[1511.6,-0.2],[1526.6,-0.3],[1534,-0.2],[1541.6,-0.05],[1549.1,-0.2],[1556.6,-0.3],[1562,-0.15],
  [1575.3,-0.2],[1579.1,0.05],[1586,-0.15],[1592.2,-0.25],[1594,-0.3],[1386.1,-0.2],[1376.7,-0.1],[1369.2,-0.25],
  [1358,-0.15],[1410.4,-0.2],[1417.9,-0.3],[1403,-0.15],
  [1352,0.15],[1357,-0.1],[1364,0.6],[1368,0.2],[1372,-0.4],[1378,0.7],[1381,-0.3],[1386,0.55],[1389,-0.05],
  [1392,0.6],[1396,0.2],[1400,0.55],[1403,0.8],[1406,-0.35],[1409,0.5],[1414,0.65],[1416,-0.1],[1420,0.25],
  [1424,0.5],[1426,-0.2],[1430,0.8],[1434,-0.4],[1438,0.55],[1442,-0.6],[1446,0.3],[1450,0.75],[1453,-0.3],
  [1456,0.2],[1460,-0.45],[1463,0.55],[1466,-0.3],[1470,0.3],[1473,0.8],[1477,-0.5],[1480,0.35],[1484,0.15],
  [1486,-0.7],[1490,0.0],[1495,-0.55],[1497,0.6],[1501,0.15],[1505,-0.75],[1509,0.3],[1512,-0.45],[1516,0.1],
  [1519,0.35],[1522,-0.6],[1527,0.15],[1531,-0.1],[1534,0.55],[1538,-0.5],[1543,0.1],[1546,-0.8],[1550,0.25],
  [1553,-0.4],[1556,0.1],[1560,-0.6],[1563,0.35],[1567,-0.45],[1570,0.15],[1574,-0.7],[1577,0.25],[1580,-0.4],
  [1584,0.05],[1588,-0.75],[1591,0.1],[1595,-0.1],[1598,-0.55],[1602,0.0],[1606,-0.5],[1610,0.1],[1614,-0.9],
  [1618,-0.1],[1622,-0.4],[1626,-0.2],[1630,-0.8],[1634,0.25],[1638,-0.3],[1642,0.0],[1646,-0.45],
  [1303,0.9],[1308,-0.3],[1314,0.55],[1319,0.05],[1324,0.75],[1329,-0.1],[1334,0.6],[1339,0.05],[1343,1.0],
  [1348,0.1],[1353,0.7],[1357,0.4],[1362,1.2],[1366,-0.2],[1371,0.55],[1375,0.25],[1379,-0.7],[1383,0.3],
  [1388,-0.35],[1391,0.95],[1395,-0.2],[1398,0.45],[1402,0.15],[1405,1.05],[1411,-0.05],[1415,0.4],[1419,-0.5],
  [1423,0.1],[1428,0.35],[1431,-0.15],[1435,0.65],[1439,0.05],[1443,-0.25],[1448,0.55],[1452,-0.75],[1455,0.45],
  [1458,0.75],[1461,-0.1],[1465,0.3],[1469,-0.6],[1472,0.6],[1475,0.1],[1478,0.35],[1482,-0.3],[1487,0.75],
  [1491,-0.25],[1496,0.1],[1499,0.85],[1503,-0.35],[1507,0.2],[1511,0.55],[1514,-0.6],[1518,0.0],[1521,0.3],
  [1525,-0.45],[1529,0.55],[1533,0.05],[1537,-0.3],[1540,0.65],[1544,-0.15],[1548,0.3],[1552,-0.6],[1555,0.45],
  [1559,-0.2],[1562,0.0],[1566,0.45],[1569,-0.9],[1573,-0.1],[1576,0.6],[1581,-0.55],[1585,0.3],[1589,-0.2],
  [1593,0.15],[1597,-0.4],[1600,0.55],[1604,-0.95],[1608,-0.25],[1612,0.45],[1616,-0.6],[1620,0.05],[1624,-1.0],
  [1628,0.4],[1632,-0.45],[1636,0.75],[1640,-0.2],[1644,0.35],[1648,-0.65],
  [1575.3,-1.78],[1566,-1.96],[1554.7,-1.69],[1541.6,-1.54],[1530.4,-1.39],[1521,-1.14],[1507.9,-2.08],
  [1496.6,-2.21],[1507.9,-2.5],[1522.9,-2.31],[1532.2,-2.8],[1558.5,-2.53],[1575.3,-2.88],[1556.6,-2.88],
  [1539.7,-2.21],[1540,-2.0],
  [1650.3,0.69],[1657.8,1.09],[1665.3,1.39],[1674.7,1.49],[1660,0.94],[1672.8,0.89],[1676.5,1.09],[1684.1,2.53],
  [1685.9,1.21],[1695.3,0.94],[1702.8,1.02],[1706.5,1.69],[1710.3,1.09],[1715.9,2.5],[1717.8,2.4],[1725.3,2.18],
  [1725.3,1.56],[1738.4,2.63],[1740.3,2.13],[1734,2.83],[1766.5,2.83],[1774,2.68],[1749.6,2.08],[1759,2.03],
  [1768.4,2.06],[1747.8,1.91],[1759,1.78],[1761,1.68],[1749.6,1.66],[1783.2,1.86],[1790.7,1.93],[1764.6,1.39],
  [1785.2,1.41],[1744.6,1.26],[1755.2,1.09],[1766,1.22],[1744,0.92],[1759,0.94],[1770.2,0.84],[1781.5,1.09],
  [1740.3,0.74],[1751.6,0.69],[1766.5,0.55],[1777.7,0.69],[1787.1,0.74],[1793,0.84],[1729,0.59],[1721.5,0.4],
  [1733,0.4],[1751,0.45],[1762.7,0.3],[1777,0.3],[1790.9,0.3],[1740.3,0.1],[1753.4,0.1],[1770.2,0.1],[1785.2,-0.02],
  [1736.5,-0.1],[1751.6,-0.2],[1766,-0.15],[1781.5,-0.25],[1795,-0.15],[1702.8,0.3],[1714,0.12],[1691.5,0.1],
  [1686,0.3],[1676.5,0.1],[1669,0.0],[1657.8,0.25],[1650.3,0.05],[1643,0.2],[1635.3,0.0],[1672.8,-0.2],
  [1684.1,-0.2],[1695.3,-0.3],[1703,-0.25],[1714,-0.15],[1725.3,-0.2],[1721.5,-0.4],[1729,-0.55],[1740.3,-0.5],
  [1751.6,-0.59],[1759,-0.69],[1770.2,-0.59],[1781.5,-0.69],[1793,-0.6],[1684.1,-0.55],[1702.8,-0.59],
  [1717.8,-0.79],[1706,-0.79],[1691.5,-0.89],[1676.5,-0.94],[1665.3,-0.84],[1654.1,-0.64],[1646,-0.74],
  [1635.3,-0.59],[1624.1,-0.74],[1616.6,-0.55],[1609.1,-0.4],[1605.3,-0.69],[1601.6,-0.94],[1597.8,-1.09],
  [1609.1,-1.14],[1622.2,-1.09],[1624.1,-1.24],[1635.3,-1.04],[1650,-1.09],[1669,-0.99],[1669,-1.24],[1684.1,-1.24],
  [1667.2,-1.39],[1652.2,-1.56],[1639.1,-1.78],[1624.1,-2.11],[1616.6,-1.64],[1601.6,-1.74],[1616.6,-2.75],
  [1646.5,-2.4],[1654.1,-1.98],[1663.4,-2.88],[1682.2,-2.88],[1669,-1.74],[1672.8,-2.03],[1695.3,-2.08],
  [1704.6,-2.43],[1717.8,-2.5],[1706.5,-2.6],[1706.5,-2.88],[1734.6,-2.03],[1740.3,-2.06],[1747,-2.08],
  [1736.5,-1.91],[1740,-1.83],[1760.9,-2.65],[1772.1,-2.92],[1749.6,-2.92],[1732.8,-1.19],[1746,-0.92],[1759,-0.94],
  [1774,-1.19],[1783.3,-0.99],[1787.1,-1.54],[1791,-1.49],[1783.3,-1.83],[1774,-1.98],[1780,-2.15],[1770.2,-2.28],
  [1794.6,-1.69],[1774,-1.49],[1797,-0.9],[1797,0.5],[1799,1.2],[1798,-0.3],[1799,-1.25],[1797,2.3],[1794,2.1],
  [1776,2.35],[1785,2.4],[1690,0.6],[1700,0.7],[1712,0.55],[1722,0.85],[1730,0.95],[1742,1.45],[1755,1.55],
  [1700,-0.5],[1710,-0.05],[1745,0.3],[1775,0.45],[1788,0.15],[1765,-0.4],[1778,-0.45],[1700,1.3],[1690,1.8],
  [1790,-0.8],[1795,-1.1],
  [1652,0.4],[1656,-0.3],[1660,0.6],[1663,-0.55],[1667,0.35],[1671,0.6],[1675,-0.5],[1679,0.4],[1682,0.8],
  [1687,-0.1],[1690,0.35],[1694,-0.6],[1697,0.2],[1701,0.45],[1705,-0.3],[1708,0.85],[1712,-0.4],[1716,0.3],
  [1719,-1.1],[1723,0.1],[1727,-0.9],[1731,0.25],[1735,0.7],[1738,-0.7],[1742,0.5],[1746,-0.35],[1750,1.0],
  [1754,-0.4],[1757,0.5],[1761,-1.2],[1764,0.8],[1768,-0.9],[1772,0.65],[1775,-0.05],[1779,-1.35],[1782,0.55],
  [1786,-0.4],[1789,1.05],[1792,-0.2],[1796,0.6],
  [2000.7,1.86],[2001.9,1.69],[2020.6,1.71],[2030.7,1.64],[2036.4,1.56],[2047.6,1.64],[2013.9,1.83],[2024.4,1.54],
  [2000.7,1.43],[2015.7,1.34],[2028.9,1.29],[2034.5,1.24],[2045.7,1.09],[2038,1.1],[2064.5,1.17],[2081.3,1.09],
  [2090.7,1.59],[2115.1,1.59],[2136.8,1.56],[2161.9,1.29],[2135.7,1.14],[2175.1,1.04],[2012.7,0.99],[2028.9,0.82],
  [2042,0.84],[2027,0.57],[2047.6,0.57],[2064.5,0.9],[2066.4,0.69],[2077.7,0.87],[2087,0.82],[2105.8,0.72],
  [2115.1,0.77],[2124.5,0.77],[2137.6,0.94],[2141,0.77],[2148.8,0.69],[2156.3,0.62],[2163.8,0.57],[2171.3,0.79],
  [2173,0.65],[1998.9,0.59],[2003,0.57],[2010.1,0.45],[2008.2,0.32],[2021.4,0.32],[2032.6,0.25],[2040.1,0.2],
  [2047,0.17],[2058.8,0.4],[2066.4,0.35],[2081.3,0.27],[2088,0.32],[2098.2,0.4],[2109.5,0.4],[2117,0.35],
  [2126.3,0.3],[2130.1,0.17],[2141.3,0.3],[2148.8,0.2],[2156.3,0.4],[2167.5,0.5],[2175.1,0.3],[2178,0.12],
  [2013.9,0.1],[2025.1,0.12],[2036.4,0.05],[2047.6,0.0],[2058.8,0.05],[2066.4,-0.05],[2077.7,-0.1],[2081.3,0.05],
  [2088.8,0.1],[2092.6,-0.1],[2103.9,-0.15],[2111.3,-0.05],[2122.7,0.0],[2130.1,-0.05],[2141.3,-0.15],[2148.8,-0.1],
  [2156.3,0.0],[2163.8,-0.15],[2171.3,0.0],[2177,-0.15],[2013.9,-0.3],[2021.4,-0.2],[2030.7,-0.25],[2043.8,-0.3],
  [2051.3,-0.2],[2058.8,-0.35],[2068.2,-0.4],[2073.9,-0.5],[2081.3,-0.3],[2088.8,-0.35],[2096.3,-0.4],[2103.9,-0.55],
  [2111.3,-0.64],[2118.8,-0.5],[2126.3,-0.4],[2133.8,-0.5],[2141.3,-0.3],[2152.6,-0.25],[2163.8,-0.3],[2171.3,-0.35],
  [2021.4,-0.5],[2028.9,-0.55],[2036.4,-0.45],[2047.6,-0.55],[2055.1,-0.59],[2051.3,-0.79],[2070.1,-0.69],
  [2070.1,-0.84],[2103.9,-0.82],[2111,-0.7],[2126.3,-0.77],[2128,-0.82],[2133.8,-0.59],[2008.2,-0.69],[1998.9,-0.92],
  [2010.1,-0.92],[2004.5,-1.17],[2010.1,-1.34],[2013.9,-1.39],[2030.7,-1.49],[2045.7,-1.49],[2045.7,-1.66],
  [2012,-1.61],[2021.4,-2.06],[2004.5,-2.23],[2012,-2.33],[2053.2,-1.12],[2058.8,-1.09],[2073.9,-1.14],
  [2075.7,-1.19],[2073.9,-1.64],[2073.9,-1.96],[2073.9,-2.08],[2012.7,2.92],[2076.8,2.76],[2114.3,2.55],
  [2176.9,0.84],[2178,0.6],[2179,0.4],[2180,-0.1],[2176,-0.3],[2179,-0.5],[2180,0.9],[2178,1.1],[2168,0.2],[2160,0.1],
  [2152,-0.45],[2145,0.1],[2138,-0.1],[2120,0.15],[2100,0.1],[2095,-0.2],[2085,-0.15],[2062,0.2],[2055,-0.1],
  [2040,-0.1],[2033,0.0],[2018,0.05],[2095,0.6],[2120,0.5],[2145,0.45],[2160,0.85],[2150,0.95],[2130,0.55],
  [2025,0.75],[2055,0.5],[2085,-0.6],[2115,-0.3],[2145,-0.5],[2160,-0.55],[2168,-0.45],
  [2005,0.2],[2007,-0.2],[2016,-0.45],[2019,0.25],[2023,-0.1],[2026,-0.65],[2031,0.4],[2035,-0.3],[2039,-0.6],
  [2043,0.35],[2049,-0.35],[2053,0.15],[2057,-0.5],[2061,-0.2],[2064,0.05],[2068,-0.15],[2071,0.25],[2075,-0.3],
  [2079,0.15],[2083,-0.45],[2087,0.0],[2090,-0.5],[2093,0.3],[2097,-0.1],[2099,-0.3],[2102,0.25],[2106,-0.4],
  [2108,0.15],[2112,-0.25],[2114,0.05],[2117,-0.35],[2121,-0.2],[2124,0.1],[2127,-0.15],[2131,0.05],[2134,-0.3],
  [2137,0.2],[2140,-0.4],[2143,-0.05],[2147,0.15],[2150,-0.2],[2153,0.1],[2156,-0.35],[2159,0.3],[2162,-0.05],
  [2165,0.15],[2167,-0.2],[2170,0.35],[2173,-0.1],[2175,0.5],[2177,0.2],[2179,-0.25],[2181,0.3],[2181,-0.4],[2181,0.65],
  [2081,-0.2],[2084,0.2],[2086,-0.35],[2089,-0.05],[2091,0.15],[2094,-0.45],[2096,0.05],[2098,-0.2],[2101,-0.35],
  [2104,0.05],[2107,-0.2],[2109,-0.45],[2111,0.2],[2113,-0.15],[2116,0.1],[2118,-0.3],[2120,-0.05],[2123,-0.35],
  [2125,0.2],[2128,-0.05],[2130,-0.3],[2132,0.1],[2135,-0.15],[2138,0.35],[2139,-0.25],[2142,0.0],[2144,-0.3],
  [2146,0.25],[2149,-0.05],[2151,0.3],[2154,-0.15],[2155,0.5],[2158,-0.2],[2161,0.45],[2163,0.1],[2166,-0.35],
  [2169,0.6],[2171,-0.15],[2174,0.1],[2176,0.4],[2178,-0.05],[2180,0.2],[2181,0.0],[2180,0.5],[2181,1.0],[2179,0.7]
];

// ---- 2180-2671 cm-1: AIRS bias (ob-fg) ----
const band3Airs = [
  [2182.3,-0.35],[2183.9,0.3],[2182.3,0.0],[2184.7,-0.02],[2187,0.0],[2188.6,-0.02],[2190.1,-0.1],[2190.9,0.25],
  [2191.5,-0.08],[2192.5,-0.15],[2193.2,-0.1],[2196.4,-0.3],[2197.9,-0.25],[2199.5,-0.17],[2185.5,-0.05],[2189,-0.12],
  [2194.5,-0.2],[2195.5,-0.28],[2224.4,-0.49],[2211.2,-0.84],[2213.5,-0.87],[2215.8,-0.92],[2229.8,-0.87],
  [2231.4,-0.94],[2233.7,-1.04],[2236.1,-0.92],[2239.2,-0.84],[2241.5,-0.79],[2249.3,-0.64],[2250.1,-0.77],
  [2252.4,-0.84],[2257.9,-0.87],[2260.2,-0.74],[2269.6,-0.55],[2282,-0.47],[2284.4,-0.55],[2299.9,-0.04],[2307,0.16],
  [2365.4,0.46],[2377.8,0.46],[2381.7,0.59],[2383.3,1.02],[2384.1,1.44],[2387.2,2.39],[2387.2,2.22],[2389.5,2.38],
  [2389.5,2.21],[2390.3,1.8],[2391.1,1.26],[2392.6,0.67],[2392.6,0.14],[2394.2,-0.36],[2395,-0.69],[2395.8,-0.84],
  [2397.3,-0.97],[2399.6,-1.09],[2402,-0.99],[2396,-0.9],[2398.5,-1.05],[2401,-1.03],[2404,-0.95],[2408.2,-0.92],
  [2413.7,-0.78],[2420.7,-0.71],[2447.2,-0.67],[2451.8,-0.74],[2455.7,-0.8],[2466.6,-0.78],[2493.1,-0.58],
  [2502.4,-0.57],[2514.9,-0.54],[2533.1,-0.63],[2542.5,-0.68],[2562.4,-0.73],[2602.1,-0.61],[2605.2,-0.77],
  [2612.2,-0.77],[2616.9,-0.79],[2609.4,-0.22],[2624.4,-0.18],[2634.1,-0.77],[2639.5,-0.05],[2641.8,-0.63],
  [2645,-0.62],[2650.4,-0.51],[2658.2,-0.45],[2659.7,-0.51],[2666,-0.45]
];

// ---- 2180-2671 cm-1: CAMEX (ob-calc) ----
const band3Camex = [
  [2180.5,0.5],[2181,0.9],[2181.5,0.3],[2182,1.1],[2182.5,0.7],[2183,0.2],[2183.5,1.0],[2184,0.45],[2185,1.2],
  [2185.5,0.6],[2186,0.85],[2186.5,0.35],[2187.5,0.95],[2188,0.5],[2189,1.25],[2189.5,0.75],[2190.5,0.45],[2191,0.85],
  [2192,0.65],[2193,0.5],[2194.5,0.9],[2195,0.35],[2196,0.6],[2197,0.8],[2198,0.5],[2199,0.3],[2180.5,0.1],
  [2180.8,-0.1],[2181.2,1.4],
  [2184.5,0.85],[2186,0.15],[2188,0.3],[2190,1.05],[2192.5,0.3],[2194,0.6],[2197.5,0.25],[2200.5,0.65],[2203,0.45],
  [2206,0.85],[2209,0.1],[2212,0.95],[2216,0.75],[2220,0.4],[2224,0.95],[2227,0.2],[2234,0.5],[2239,0.7],
  [2240,2.85],[2268,2.97],[2253.2,2.74],[2301.5,2.75],[2311.9,2.77],[2283.6,2.72],[2247,2.4],[2251.2,2.43],
  [2281.2,2.46],[2236.9,2.18],[2248.6,2.15],[2261,2.27],[2302.3,2.2],[2285.1,2.1],[2243.9,1.85],[2249.3,1.91],
  [2271.9,1.91],[2275,1.89],[2234.5,1.77],[2240.7,1.54],[2254,1.59],[2264.9,1.66],[2274.8,1.57],[2282,1.71],
  [2322.5,1.69],[2230.2,1.55],[2230.6,1.34],[2235.3,1.26],[2243.1,1.27],[2272.7,1.38],[2306.2,1.37],[2205.4,1.43],
  [2212.7,1.31],[2218.5,1.43],[2201.8,1.21],[2204.9,1.14],[2218.1,1.13],[2236.5,1.14],[2247.3,1.07],[2258.7,1.13],
  [2262.6,1.09],[2269.6,1.08],[2291.1,1.01],[2182.8,1.4],[2187,1.24],[2189.3,1.26],[2182.3,0.94],[2188.6,0.99],
  [2193.2,0.89],[2197.1,0.95],[2201.8,0.84],[2260.2,0.84],[2229.8,0.82],[2225.2,0.84],[2232.2,0.93],[2233.7,0.82],
  [2244.6,0.79],[2183.9,0.69],[2188.6,0.72],[2194,0.74],[2196.4,0.69],[2198.3,0.72],[2204.2,0.7],[2182.3,0.57],
  [2191.7,0.55],[2196.4,0.45],[2200.2,0.52],[2209.6,0.57],[2213,0.62],[2218.9,0.69],[2221.3,0.62],[2225.9,0.69],
  [2228.2,0.55],[2222.8,0.5],[2214.3,0.52],[2190.9,0.42],[2203.4,0.37],[2208,0.3],[2210.4,0.35],[2215.8,0.35],
  [2224.6,0.32],[2227.5,0.45],[2238.4,0.41],[2244.6,0.64],[2252.4,0.44],[2232.2,0.32],[2183.9,0.2],[2194,0.2],
  [2198.7,0.12],[2208,0.21],[2217.4,0.18],[2221.3,0.14],[2223.6,0.12],[2229,0.15],[2250.9,0.11],[2257.1,0.15],
  [2201.8,0.0],[2207.2,-0.02],[2222.8,0.0],[2231.4,0.02],[2207.9,-0.1],[2211.9,-0.2],[2213.5,-0.26],[2217.4,-0.26],
  [2219.8,-0.32],[2214.7,-0.55],[2231.4,-0.47],[2236.1,-0.27],[2242.3,-0.4],[2243.9,-0.5],[2247,-0.21],[2252.4,-0.41],
  [2235.3,-0.64],[2237.6,-0.88],[2240,-1.1],[2254,-0.73],[2258.7,-0.78],[2253.3,-1.04],[2256.4,-1.16],[2250.1,-1.34],
  [2254,-1.39],[2250.4,-1.5],[2238.1,-1.5],[2256.7,-1.69],[2264.6,-1.61],[2266.8,-1.4],[2274.2,-1.38],[2277,-1.12],
  [2275.5,-0.22],[2284.4,-0.09],[2283.3,-0.37],[2295.3,0.16],[2295.3,0.36],[2302.7,0.16],[2257.4,0.16],
  [2280.5,-1.78],[2272.4,-2.38],[2279.9,-2.5],[2292.1,-2.52],[2303.5,-1.44],[2305.3,-2.15],[2291.7,-2.83],
  [2302.7,-2.85],[2324.1,-2.78],[2290.6,1.0],
  [2345.9,2.59],[2349,2.59],[2363,2.64],[2365.4,2.64],[2388.7,2.68],[2390.3,2.6],[2368.2,2.4],[2349,2.04],
  [2339.7,1.77],[2364.6,1.84],[2361.5,1.15],[2346.7,0.5],[2379.4,0.57],[2390.8,1.73],[2390,1.12],[2392.6,0.79],
  [2356.8,-0.57],[2359.9,-1.02],[2377.8,-1.66],[2376,-2.07],[2359.9,-2.9],
  [2391.9,0.27],[2392.6,0.16],[2395,0.21],[2395.8,-0.02],[2392.6,-0.3],[2393.4,-0.57],[2390.3,-0.83],[2396.5,-0.59],
  [2400.1,-0.14],[2400.4,-0.35],[2402.8,-0.15],[2404.3,0.3],[2404.3,0.07],[2401.7,-0.69],[2403.5,-0.87],
  [2405.9,-0.37],[2407.4,-0.5],[2408.2,-0.15],[2410.5,-0.27],[2409,-0.42],[2412.9,0.1],[2412.9,-0.64],[2413.7,0.4],
  [2416,0.3],[2417.6,-0.12],[2416.8,-0.3],[2418,-0.57],[2420.7,0.22],[2422.2,0.3],[2423.8,0.3],[2425.3,0.15],
  [2426.9,-0.04],[2430,0.05],[2431.6,-0.04],[2433.9,0.0],[2433.1,-0.15],[2434.7,-0.2],[2436.3,0.12],[2438.6,-0.15],
  [2439.4,-0.3],[2420.7,-0.15],[2422.2,-0.3],[2426.9,-0.32],[2430,-0.2],[2433.1,-0.5],[2439.4,-0.64],[2440.1,-0.87],
  [2444,0.25],[2444.8,0.05],[2446.4,-0.45],[2442.5,-0.42],[2449.5,0.46],[2453.4,0.52],[2454.2,0.3],[2453.4,0.1],
  [2451.8,-0.25],[2452.6,-0.45],[2457.3,0.05],[2458.1,-0.15],[2459.6,0.0],[2461.2,-0.25],[2462.7,-0.45],
  [2463.5,-0.59],[2464.3,0.56],[2465.1,-0.15],[2467,-0.18],[2469.7,0.15],[2470.5,0.59],[2471.3,-0.42],[2472.9,-0.22],
  [2474.4,0.1],[2476,0.05],[2476.7,-0.55],[2479.1,0.57],[2481.4,0.57],[2481.4,0.2],[2479.9,-0.1],[2483,0.0],
  [2484.5,-0.52],[2487.6,-0.35],[2489.2,0.05],[2490,0.42],[2492.3,0.52],[2494.7,0.25],[2498.6,-0.1],[2497,-0.35],
  [2498.6,-0.5],[2503.2,-0.15],[2501.7,-0.79],[2504,-0.67],[2507.9,0.2],[2509.5,-0.69],[2472.9,-0.84],[2479.1,-0.77],
  [2459.6,-0.82],[2470.5,-0.69],
  [2406,0.1],[2411,-0.05],[2415,0.0],[2419,-0.4],[2424,-0.1],[2428,0.2],[2432,-0.3],[2437,-0.4],[2441,-0.1],
  [2445,-0.2],[2448,-0.05],[2450,-0.35],[2456,-0.3],[2460,0.25],[2464,-0.35],[2466,0.35],[2468,-0.05],[2471,0.3],
  [2474,-0.3],[2477,0.35],[2480,-0.45],[2482,-0.2],[2486,0.2],[2488,-0.1],[2491,-0.3],[2494,-0.05],[2496,0.0],
  [2500,-0.25],[2502,0.1],[2506,-0.35],[2510,-0.15],[2514,0.35],[2518,-0.2],[2522,0.15],[2524,-0.45],[2528,-0.05],
  [2532,0.3],[2536,-0.3],[2538,0.15],[2541,-0.5],[2544,0.2],[2548,-0.45],[2552,0.1],[2555,-0.25],[2558,-0.1],
  [2562,-0.55],[2566,0.0],[2572,-0.3],[2575,-0.55],[2579,-0.4],[2583,-0.25],[2587,-0.45],[2592,-0.1],[2596,-0.3],
  [2598,0.0],[2588,0.25],[2574,0.2],[2563,0.25],[2557,0.6],[2545,0.4],
  [2403,0.0],[2407,-0.25],[2409,0.2],[2413,-0.35],[2417,0.15],[2421,-0.05],[2425,-0.45],[2427,0.1],[2431,0.15],
  [2435,-0.3],[2438,0.05],[2443,-0.05],[2447,0.2],[2451,0.35],[2455,-0.1],[2458,0.4],[2463,0.0],[2467,0.2],
  [2470,-0.1],[2473,0.45],[2476,-0.2],[2479,0.1],[2483,-0.3],[2485,0.35],[2489,-0.5],[2492,0.05],[2495,-0.45],
  [2499,0.3],[2503,-0.3],[2505,0.45],[2509,0.1],[2512,-0.45],[2517,0.3],[2520,0.1],[2523,-0.25],[2527,0.5],
  [2530,-0.35],[2533,-0.05],[2537,0.5],[2540,-0.2],[2543,0.05],[2547,0.25],[2549,-0.15],[2553,0.3],[2557,-0.35],
  [2560,0.1],[2564,-0.5],[2568,0.2],[2571,-0.1],[2576,0.0],[2580,-0.5],[2584,0.1],[2589,-0.6],[2593,0.05],[2597,-0.2],
  [2414,0.71],[2448.7,0.69],[2462.7,1.01],[2483.8,1.02],[2504.8,1.59],[2505.6,1.43],[2504.8,0.98],[2497.8,0.75],
  [2506.3,0.75],[2405.1,-1.28],[2446.4,-1.36],[2450.3,-1.12],[2469,-1.21],[2486.1,-1.24],[2500.1,-1.31],
  [2421.4,-1.12],[2473.6,-1.02],[2492.3,-0.99],[2500.9,-1.04],
  [2568.6,1.24],[2569.7,1.05],[2511.8,0.67],[2521.1,0.72],[2526.6,0.63],[2534.7,0.55],[2550.2,0.49],[2584.2,0.64],
  [2590.9,0.64],[2585,0.5],[2588.9,0.41],[2590.4,0.19],[2586.2,0.07],[2581.9,-0.15],[2585.4,-0.1],[2589.7,-0.26],
  [2591.2,-0.34],[2594.3,-0.46],[2599.5,-0.44],[2493.1,0.47],[2494.6,0.25],[2497,0.35],[2498.5,0.16],[2507.1,0.45],
  [2512.5,0.55],[2515.7,0.56],[2515.7,0.28],[2514.1,0.16],[2511,0.05],[2516.4,-0.02],[2504.4,-0.12],[2508.7,-0.42],
  [2513.3,-0.27],[2520.3,0.37],[2527.7,0.32],[2529.1,0.45],[2535.1,0.27],[2539.8,0.35],[2539,0.06],[2531.7,0.0],
  [2528.4,0.13],[2525,-0.2],[2530.9,-0.2],[2521.9,-0.37],[2520.3,-0.55],[2526.6,-0.55],[2529.4,-0.73],[2534.4,-0.55],
  [2537.5,-0.62],[2546,-0.07],[2546,-0.3],[2550,-0.29],[2553,-0.12],[2551.5,-0.44],[2547.1,-0.62],[2548.4,-0.84],
  [2543.7,-1.02],[2547.6,-1.02],[2548.4,-1.16],[2539,-0.84],[2540.6,-1.36],[2542,-1.36],[2541.4,-1.91],
  [2541.1,-2.02],[2533.6,-1.64],[2533.6,-1.84],[2533.1,-1.19],[2498.5,-1.19],[2493.9,-0.75],[2500.9,-0.69],
  [2510.7,-1.03],[2509.4,-0.88],[2516.4,-0.97],[2518.8,-1.04],[2520.3,-1.09],[2521.9,-1.12],[2523.1,-0.93],
  [2526.6,-0.84],[2516.4,-0.7],[2511,-0.67],[2553.8,-0.8],[2555.4,-0.88],[2554.6,-0.97],[2556.2,-1.09],
  [2559.3,-1.08],[2558.5,-1.24],[2559.3,-1.44],[2563.6,-1.36],[2565.5,-1.61],[2566.3,-1.76],[2571,-1.89],
  [2571,-2.01],[2576.4,-2.03],[2571.7,-1.61],[2575.2,-1.58],[2577.2,-1.29],[2581.9,-1.28],[2573.3,-1.21],
  [2578.7,-1.14],[2579.5,-1.02],[2578.7,-0.87],[2574.4,-0.75],[2570.2,-1.0],[2566.3,-0.67],[2570.2,-0.45],
  [2564.7,-0.73],[2560.8,-0.84],[2559.3,-0.62],[2560.8,-0.5],[2561.6,-0.37],[2564.7,-0.27],[2567.8,-0.17],
  [2569.4,-0.05],[2577.7,-0.1],[2577.7,-0.29],[2582.6,-1.75],[2583,-2.3],[2571,-2.4],[2587.3,-2.09],[2592,-2.09],
  [2588.1,-2.49],[2592.3,-2.44],[2594.3,-1.74],[2597.4,-1.76],[2598.7,-1.7],[2594.8,-1.59],[2593.5,-1.36],
  [2599,-1.4],[2595.9,-1.12],[2596.4,-0.98],[2600.6,-0.74],[2599.5,-0.55],[2595.1,-0.64],[2580,-0.69],[2580.3,-0.85],
  [2565.2,-0.63],[2556.2,-0.54],[2551.5,-0.64],[2542.1,-0.64],[2535.9,-0.57],[2531.2,-0.72],[2521.9,-0.64],
  [2518.5,-0.89],[2511.8,-0.73],[2508.7,-0.58],[2501.6,-0.79],[2497,-0.42],[2496.2,-0.2],[2523.5,0.07],
  [2520.3,-0.04],[2535.9,0.05],[2536.7,-0.12],[2551.2,-0.37]
];

const toPoints = pairs => pairs.map(([x, y]) => ({ x, y }));

// Frame with inward ticks on all four sides, y tick labels and the boxed legend.
const frameAndLegend = {
  id: 'frameAndLegend',
  afterDatasetsDraw(chart, _args, opts) {
    const { ctx, chartArea: a } = chart;
    const xs = chart.scales.x, ys = chart.scales.y;
    ctx.save();
    ctx.strokeStyle = NAVY;
    ctx.lineWidth = 1.5;
    ctx.beginPath();
    const first = Math.ceil(xs.min / opts.xMinor);
    const last = Math.floor(xs.max / opts.xMinor);
    for (let k = first; k <= last; k++) {
      const v = k * opts.xMinor;
      const px = Math.round(xs.getPixelForValue(v)) + 0.5;
      const r = v / opts.xMajor;
      const len = Math.abs(r - Math.round(r)) < 1e-9 ? 9 : 5;
      ctx.moveTo(px, a.bottom); ctx.lineTo(px, a.bottom - len);
      ctx.moveTo(px, a.top); ctx.lineTo(px, a.top + len);
    }
    for (let k = -30; k <= 30; k++) {
      const py = Math.round(ys.getPixelForValue(k / 10)) + 0.5;
      const major = k % 10 === 0;
      ctx.moveTo(a.left, py); ctx.lineTo(a.left + (major ? 22 : 10), py);
      ctx.moveTo(a.right, py); ctx.lineTo(a.right - (major ? 23 : 11), py);
    }
    ctx.stroke();
    ctx.lineWidth = 2.2;
    ctx.strokeRect(a.left, a.top, a.right - a.left, a.bottom - a.top);

    // y tick labels, kept inside the frame height at the ends
    ctx.fillStyle = NAVY;
    ctx.font = '18px ' + FONT;
    ctx.textAlign = 'right';
    ctx.textBaseline = 'middle';
    yTickValues.forEach(v => {
      const py = Math.min(Math.max(ys.getPixelForValue(v), a.top + 5.5), a.bottom - 9);
      ctx.fillText(String(v), a.left - 8, py);
    });

    // legend box: AIRS first, then CAMEX
    const lx = 930.7, ly = 36.7, lw = 139.3, lh = 48.3;
    ctx.lineWidth = 1.6;
    ctx.strokeRect(lx, ly, lw, lh);
    const rows = [chart.data.datasets[1], chart.data.datasets[0]];
    rows.forEach((ds, i) => {
      const cy = ly + 15.5 + i * 16.5;
      ctx.fillStyle = ds.backgroundColor;
      ctx.beginPath();
      ctx.arc(lx + 16, cy, 3.4, 0, Math.PI * 2);
      ctx.fill();
      ctx.save();
      ctx.translate(lx + 24.5, cy);
      ctx.scale(1.17, 1);
      ctx.fillStyle = NAVY;
      ctx.font = '12px ' + FONT;
      ctx.textAlign = 'left';
      ctx.textBaseline = 'middle';
      ctx.fillText(ds.label, 0, 0.5);
      ctx.restore();
    });
    ctx.restore();
  }
};

function drawBand(canvasId, band) {
  return new Chart(document.getElementById(canvasId), {
    type: 'scatter',
    data: {
      datasets: [
        { label: 'CAMEX ob-calc', data: toPoints(band.camex), pointStyle: 'rect', pointRadius: 3.6,
          backgroundColor: CAMEX_BLUE, borderWidth: 0, pointHoverRadius: 3.6 },
        { label: 'AIRS bias ob-fg', data: toPoints(band.airs), pointStyle: 'circle', pointRadius: 5,
          backgroundColor: AIRS_ORANGE, borderWidth: 0, pointHoverRadius: 5 }
      ]
    },
    options: {
      responsive: false,
      animation: false,
      events: [],
      layout: { padding: { left: 0, right: 13.3, top: 18.3, bottom: 0 } },
      plugins: {
        legend: { display: false },
        tooltip: { enabled: false },
        frameAndLegend: { xMinor: band.minor, xMajor: band.major }
      },
      scales: {
        x: {
          type: 'linear', position: 'bottom', min: band.range[0], max: band.range[1],
          grid: { display: false, drawTicks: false }, border: { display: false },
          afterBuildTicks: s => { s.ticks = band.ticks.map(value => ({ value })); },
          ticks: { color: NAVY, font: { family: FONT, size: 19 }, padding: 8, maxRotation: 0,
                   autoSkip: false, callback: v => String(v) },
          title: { display: true, text: 'Wavenumber', color: NAVY, font: { family: FONT, size: 21 },
                   padding: { top: 0, bottom: 31 } },
          afterFit: s => { s.height = 88.3; s.paddingLeft = 0; s.paddingRight = 0; }
        },
        y: {
          type: 'linear', min: -3, max: 3,
          grid: { display: false, drawTicks: false }, border: { display: false },
          ticks: { display: false },
          title: { display: true, text: 'dBT (K)', color: NAVY, font: { family: FONT, size: 20 },
                   padding: { top: 13.5, bottom: 0 } },
          afterFit: s => { s.width = 71.7; s.paddingTop = 0; s.paddingBottom = 0; }
        }
      }
    },
    plugins: [frameAndLegend]
  });
}

drawBand('band1', { camex: band1Camex, airs: band1Airs, range: band1Range, ticks: band1Ticks, minor: 10, major: 100 });
drawBand('band2', { camex: band2Camex, airs: band2Airs, range: band2Range, ticks: band2Ticks, minor: 50, major: 200 });
drawBand('band3', { camex: band3Camex, airs: band3Airs, range: band3Range, ticks: band3Ticks, minor: 10, major: 100 });
</script>
</body>
</html>
